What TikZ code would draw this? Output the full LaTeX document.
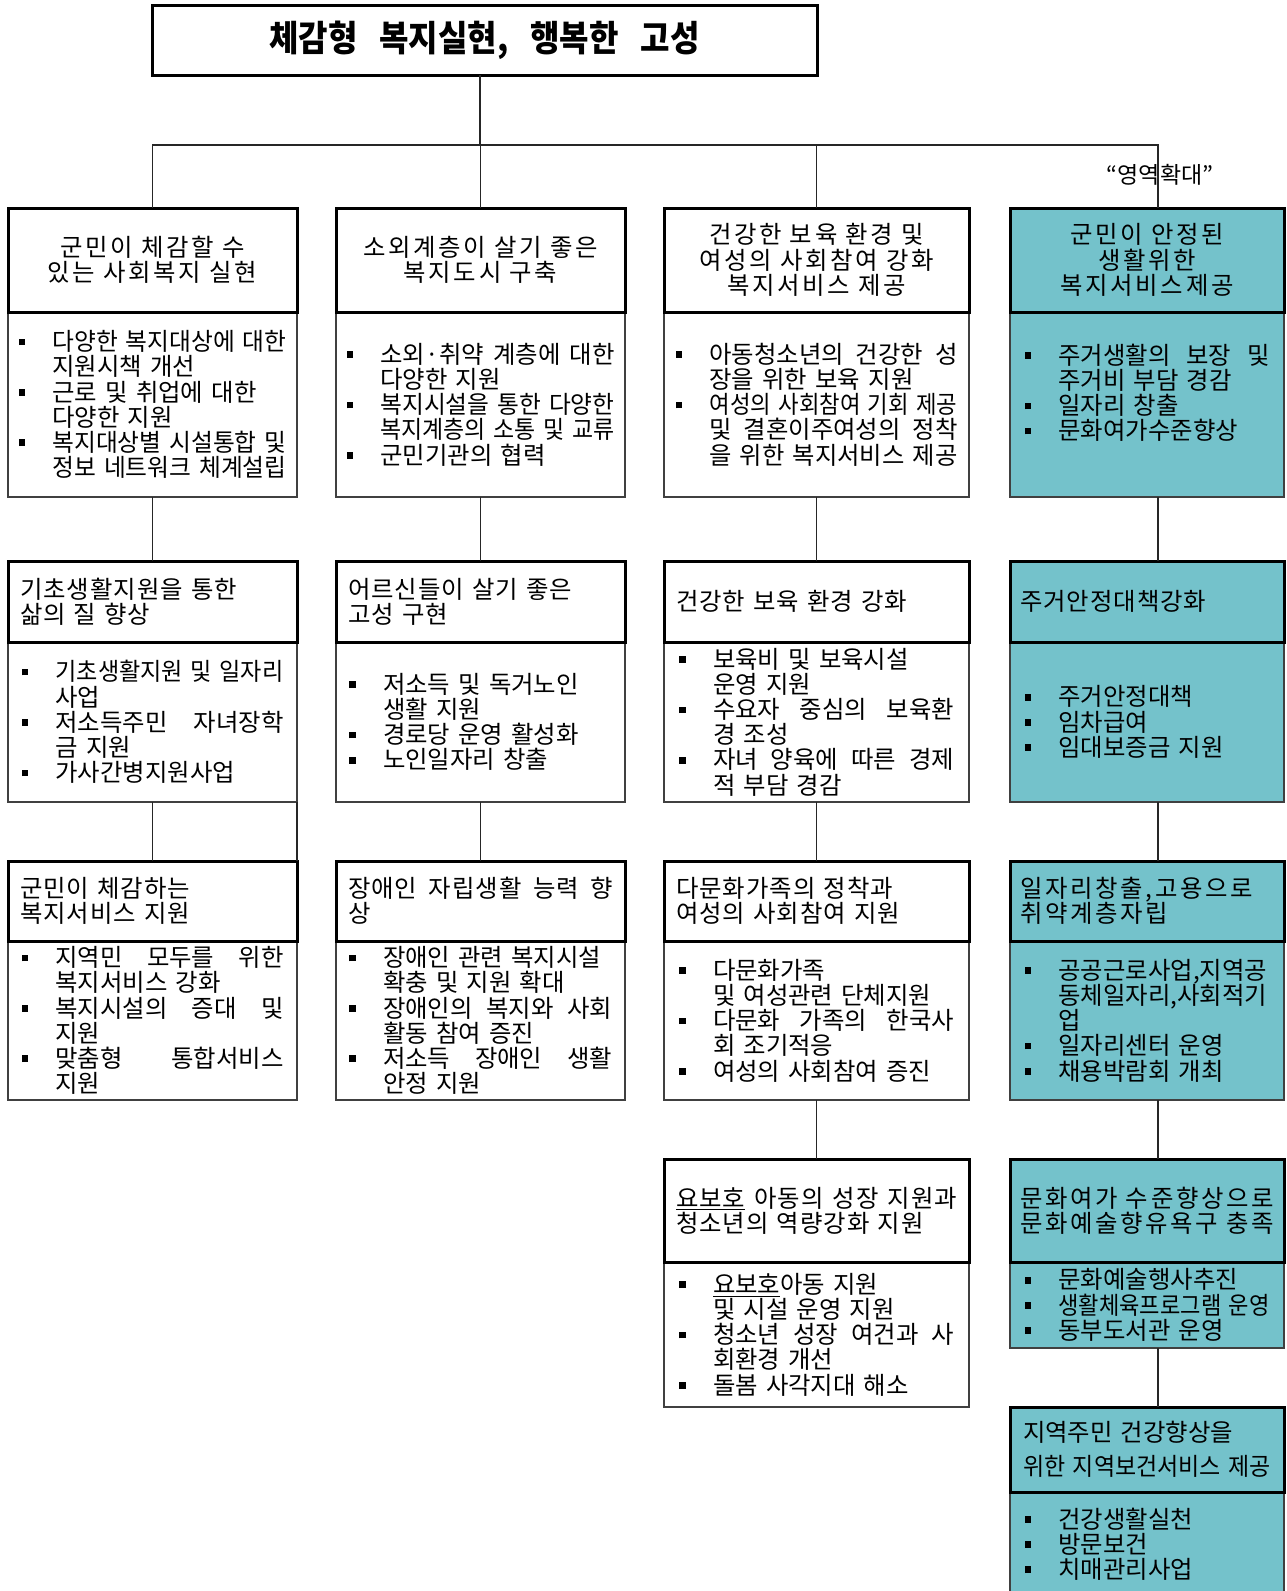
\documentclass[tikz,border=0pt]{standalone}
\usepackage{fontspec}
\usepackage{graphicx}
\setmainfont{Noto Sans CJK KR}[WordSpace=1.3]
\newfontfamily\lsfont{Noto Sans CJK KR}[LetterSpace=11,WordSpace=3]
\newfontfamily\hfont{Noto Sans CJK KR}[LetterSpace=4,WordSpace=1.8]
\definecolor{tealc}{RGB}{116,194,203}
\newlength\bw \setlength\bw{17pt}
\newlength\tgtw
\newsavebox\lbox
\newcommand\fitto[2]{\setlength\tgtw{#1}\sbox\lbox{#2}%
  \ifdim\wd\lbox>\tgtw
    \edef\wa{\the\tgtw}\edef\wb{\the\wd\lbox}\pgfmathsetmacro\sfac{\wa/\wb}%
    \scalebox{\sfac}[1]{\usebox\lbox}%
  \else\makebox[\tgtw][s]{\spaceskip=0.25em plus 1fil\relax #2}\fi}
\newcommand\fitmax[2]{\setlength\tgtw{#1}\sbox\lbox{#2}%
  \ifdim\wd\lbox>\tgtw
    \edef\wa{\the\tgtw}\edef\wb{\the\wd\lbox}\pgfmathsetmacro\sfac{\wa/\wb}%
    \scalebox{\sfac}[1]{\usebox\lbox}%
  \else\usebox\lbox\fi}
\newcommand\bul{\makebox[\bw][l]{\rule[2.7pt]{3.3pt}{3.3pt}}}
\newcommand\BJ[1]{\bul\fitto{\dimexpr\hsize-\bw\relax}{#1}}
\newcommand\BI[1]{\bul\fitmax{\dimexpr\hsize-\bw\relax}{#1}}
\newcommand\CJ[1]{\hspace*{\bw}\fitto{\dimexpr\hsize-\bw\relax}{#1}}
\newcommand\CL[1]{\hspace*{\bw}\fitmax{\dimexpr\hsize-\bw\relax}{#1}}
\newcommand\HJ[1]{\fitto{\hsize}{#1}}
\tikzset{
  conn/.style={draw=black!85, line width=0.6pt},
  hdr/.style={draw=black, line width=1.5pt, inner sep=0pt, outer sep=0pt, font=\hfont\fontsize{12.2}{12.6}\selectfont},
  hdrls/.style={hdr, font=\lsfont\fontsize{12.2}{12.6}\selectfont},
  bdy/.style={draw=black!75, line width=0.6pt, inner sep=0pt, outer sep=0pt, align=left, font=\fontsize{12.2}{12.6}\selectfont},
  tl/.style={fill=tealc},
  wA/.style={minimum width=144.5pt},
  wC/.style={minimum width=152.5pt},
  wD/.style={minimum width=137pt},
}
\begin{document}
\begin{tikzpicture}[x=0.5pt,y=-0.5pt]
\useasboundingbox (0,0) rectangle (1286,1591);
\clip (0,0) rectangle (1286,1591);
\fill[white] (0,0) rectangle (1286,1591);

% title
\node[draw=black, line width=1.5pt, minimum width=332.5pt, minimum height=35pt, inner sep=0pt, outer sep=0pt] (title) at (484.5,40)
  {\scalebox{1}[1.12]{\fontsize{16}{18}\selectfont\bfseries 체감형\hspace{11pt}복지실현,\hspace{11pt}행복한\hspace{11pt}고성}};
\node[font=\fontsize{11.5}{12}\selectfont, inner sep=0pt] (lbl) at (1160,175) {“영역확대”};

% ---------- row 1 ----------
\node[bdy, wA, minimum height=92.5pt, text width=134pt] (b11) at (152.5,404.5) {%
\BJ{다양한 복지대상에 대한}\\
\CL{지원시책 개선}\\
\BI{근로 및 취업에 대한}\\
\CL{다양한 지원}\\
\BJ{복지대상별 시설통합 및}\\
\CJ{정보 네트워크 체계설립}};
\node[hdrls, fill=white, wA, minimum height=52pt, text width=134pt, align=center] (h11) at (152.5,260) {군민이 체감할 수\\있는 사회복지 실현};

\node[bdy, wA, minimum height=92.5pt, text width=134pt] (b21) at (480.5,404.5) {%
\BJ{소외·취약 계층에 대한}\\
\CL{다양한 지원}\\
\BJ{복지시설을 통한 다양한}\\
\CJ{복지계층의 소통 및 교류}\\
\BI{군민기관의 협력}};
\node[hdrls, fill=white, wA, minimum height=52pt, text width=134pt, align=center] (h21) at (480.5,260) {소외계층이 살기 좋은\\복지도시 구축};

\node[bdy, wC, minimum height=92.5pt, text width=141pt] (b31) at (816.5,404.5) {%
\BJ{아동청소년의 건강한 성}\\
\CL{장을 위한 보육 지원}\\
\BJ{여성의 사회참여 기회 제공}\\
\CJ{및 결혼이주여성의 정착}\\
\CL{을 위한 복지서비스 제공}};
\node[hdrls, fill=white, wC, minimum height=52pt, text width=142pt, align=center] (h31) at (816.5,260) {건강한 보육 환경 및\\여성의 사회참여 강화\\복지서비스 제공};

\node[bdy, tl, wD, minimum height=92.5pt, text width=122.5pt] (b41) at (1147,404.5) {%
\BJ{주거생활의 보장 및}\\
\CL{주거비 부담 경감}\\
\BI{일자리 창출}\\
\BI{문화여가수준향상}\\
\mbox{}};
\node[hdrls, tl, wD, minimum height=52pt, text width=127pt, align=center] (h41) at (1147,260) {군민이 안정된\\생활위한\\복지서비스제공};

% ---------- row 2 ----------
\node[bdy, wA, minimum height=80pt, text width=131pt] (b12) at (152.5,722) {%
\BJ{기초생활지원 및 일자리}\\
\CL{사업}\\
\BJ{저소득주민 자녀장학}\\
\CL{금 지원}\\
\BI{가사간병지원사업}};
\node[hdr, fill=white, wA, minimum height=40.5pt, text width=132.5pt, align=left] (h12) at (152.5,601.5) {기초생활지원을 통한\\삶의 질 향상};

\node[bdy, wA, minimum height=80pt, text width=131.5pt] (b22) at (480.5,722) {%
\BI{저소득 및 독거노인}\\
\CL{생활 지원}\\
\BI{경로당 운영 활성화}\\
\BI{노인일자리 창출}};
\node[hdr, fill=white, wA, minimum height=40.5pt, text width=132.5pt, align=left] (h22) at (480.5,601.5) {어르신들이 살기 좋은\\고성 구현};

\node[bdy, wC, minimum height=80pt, text width=137.5pt] (b32) at (816.5,722) {%
\BI{보육비 및 보육시설}\\
\CL{운영 지원}\\
\BJ{수요자 중심의 보육환}\\
\CL{경 조성}\\
\BJ{자녀 양육에 따른 경제}\\
\CL{적 부담 경감}};
\node[hdr, fill=white, wC, minimum height=40.5pt, text width=140.5pt, align=left] (h32) at (816.5,601.5) {건강한 보육 환경 강화};

\node[bdy, tl, wD, minimum height=80pt, text width=122.5pt] (b42) at (1147,722) {%
\BI{주거안정대책}\\
\BI{임차급여}\\
\BI{임대보증금 지원}};
\node[hdr, tl, wD, minimum height=40.5pt, text width=127pt, align=left] (h42) at (1147,601.5) {주거안정대책강화};

% ---------- row 3 ----------
\node[bdy, wA, minimum height=79.5pt, text width=131pt] (b13) at (152.5,1020.5) {%
\BJ{지역민 모두를 위한}\\
\CL{복지서비스 강화}\\
\BJ{복지시설의 증대 및}\\
\CL{지원}\\
\BJ{맞춤형 통합서비스}\\
\CL{지원}};
\node[hdr, fill=white, wA, minimum height=40pt, text width=132.5pt, align=left] (h13) at (152.5,901) {군민이 체감하는\\복지서비스 지원};

\node[bdy, wA, minimum height=79.5pt, text width=131.5pt] (b23) at (480.5,1020.5) {%
\BI{장애인 관련 복지시설}\\
\CL{확충 및 지원 확대}\\
\BJ{장애인의 복지와 사회}\\
\CL{활동 참여 증진}\\
\BJ{저소득 장애인 생활}\\
\CL{안정 지원}};
\node[hdr, fill=white, wA, minimum height=40pt, text width=132.5pt, align=left] (h23) at (480.5,901) {\HJ{장애인 자립생활 능력 향}\\상};

\node[bdy, wC, minimum height=79.5pt, text width=137.5pt] (b33) at (816.5,1020.5) {%
\BI{다문화가족}\\
\CL{및 여성관련 단체지원}\\
\BJ{다문화 가족의 한국사}\\
\CL{회 조기적응}\\
\BI{여성의 사회참여 증진}};
\node[hdr, fill=white, wC, minimum height=40pt, text width=140.5pt, align=left] (h33) at (816.5,901) {다문화가족의 정착과\\여성의 사회참여 지원};

\node[bdy, tl, wD, minimum height=79.5pt, text width=122.5pt] (b43) at (1147,1020.5) {%
\BJ{공공근로사업,지역공}\\
\CJ{동체일자리,사회적기}\\
\CL{업}\\
\BI{일자리센터 운영}\\
\BI{채용박람회 개최}};
\node[hdrls, tl, wD, minimum height=40pt, text width=127pt, align=left] (h43) at (1147,901) {\HJ{일자리창출,고용으로}\\취약계층자립};

% ---------- row 4 ----------
\node[bdy, wC, minimum height=72.5pt, text width=137.5pt] (b34) at (816.5,1334.5) {%
\BI{\underline{요보호}아동 지원}\\
\CL{및 시설 운영 지원}\\
\BJ{청소년 성장 여건과 사}\\
\CL{회환경 개선}\\
\BI{돌봄 사각지대 해소}};
\node[hdr, fill=white, wC, minimum height=51.5pt, text width=140.5pt, align=left] (h34) at (816.5,1210.5) {\HJ{\underline{요보호} 아동의 성장 지원과}\\청소년의 역량강화 지원};

\node[bdy, tl, wD, minimum height=43pt, text width=122.5pt] (b44) at (1147,1305) {%
\BI{문화예술행사추진}\\
\BI{생활체육프로그램 운영}\\
\BI{동부도서관 운영}};
\node[hdrls, tl, wD, minimum height=51.5pt, text width=127pt, align=left] (h44) at (1147,1210.5) {\HJ{문화여가 수준향상으로}\\\HJ{문화예술향유욕구 충족}};

% ---------- row 5 ----------
\node[bdy, tl, wD, minimum height=52pt, text width=122.5pt] (b45) at (1147,1544) {%
\BI{건강생활실천}\\
\BI{방문보건}\\
\BI{치매관리사업}};
\node[hdr, tl, wD, minimum height=42.5pt, text width=124pt, align=left, font=\fontsize{12.2}{16.8}\selectfont] (h45) at (1147,1449.5) {지역주민 건강향상을\\\HJ{위한 지역보건서비스 제공}};

% ---------- connectors ----------
\coordinate (bus) at (480,145);
\coordinate (c4a) at ([xshift=5.5pt]h41.north);
\draw[conn] (title.south -| bus) -- (bus);
\draw[conn] (h11.north) |- (bus);
\draw[conn] (h21.north) -- (h21.north |- bus);
\draw[conn] (h31.north) |- (bus);
\draw[conn] (c4a) |- (bus);

\draw[conn] (b11.south) -- (h12.north);
\draw[conn] (b21.south) -- (h22.north);
\draw[conn] (b31.south) -- (h32.north);
\draw[conn] ([xshift=5.5pt]b41.south) -- ([xshift=5.5pt]h42.north);

\draw[conn] (b12.south) -- (h13.north);
\draw[conn] (b12.south east) -- (h13.north east);
\draw[conn] (b22.south) -- (h23.north);
\draw[conn] (b32.south) -- (h33.north);
\draw[conn] ([xshift=5.5pt]b42.south) -- ([xshift=5.5pt]h43.north);

\draw[conn] (b33.south) -- (h34.north);
\draw[conn] ([xshift=5.5pt]b43.south) -- ([xshift=5.5pt]h44.north);
\draw[conn] ([xshift=5.5pt]b44.south) -- ([xshift=5.5pt]h45.north);
\end{tikzpicture}
\end{document}
